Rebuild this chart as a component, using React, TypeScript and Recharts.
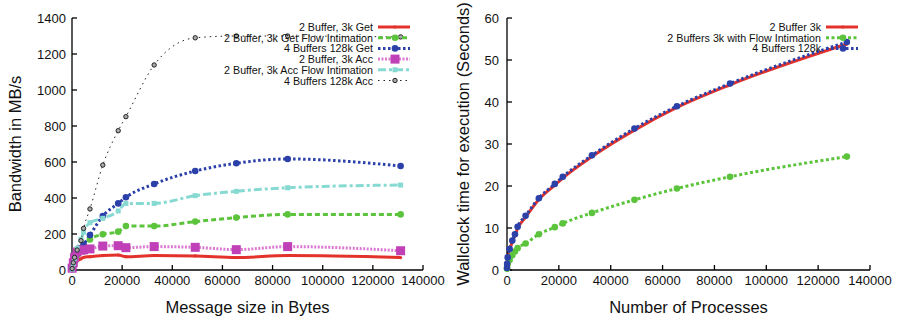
import React from "react";
import { LineChart, Line, XAxis, YAxis } from "recharts";

// left chart: bandwidth vs message size
const msgSizes = [64, 512, 1024, 2048, 3584, 4608, 7168, 12288, 18432, 21504, 32768, 49152, 65536, 86016, 131072];
const getBw = [5, 20, 35, 50, 62, 70, 74, 80, 83, 74, 80, 78, 69, 80, 69];
const getFlowBw = [5, 25, 45, 80, 110, 135, 170, 198, 213, 244, 244, 269, 291, 309, 309];
const get128Bw = [5, 30, 55, 95, 120, 140, 194, 300, 370, 404, 478, 550, 593, 617, 578];
const accBw = [10, 40, 70, 100, 110, 112, 117, 133, 135, 124, 130, 126, 113, 130, 107];
const accFlowBw = [5, 35, 65, 120, 170, 210, 263, 287, 328, 370, 370, 413, 437, 457, 472];
const acc128Bw = [8, 40, 70, 111, 163, 231, 339, 583, 774, 852, 1139, 1290, 1300, 1300, 1295];
const bwTicks = [0, 200, 400, 600, 800, 1000, 1200, 1400];

// right chart: wallclock time vs processes
const procCounts = [16, 64, 256, 1024, 2048, 3072, 4096, 7168, 12288, 18432, 21504, 32768, 49152, 65536, 86016, 131072];
const time2Buf = [0.5, 1.4, 2.8, 4.7, 6.7, 8.2, 9.9, 12.6, 16.8, 20.2, 21.9, 27.0, 33.3, 38.7, 44.1, 53.8];
const time2BufFlow = [0.3, 0.8, 1.5, 2.4, 3.5, 4.4, 5.2, 6.3, 8.5, 10.2, 11.1, 13.6, 16.7, 19.4, 22.2, 27.0];
const time4Buf = [0.5, 1.5, 3, 5, 7, 8.5, 10.3, 12.9, 17.1, 20.5, 22.2, 27.3, 33.7, 39.0, 44.4, 54.3];
const timeTicks = [0, 10, 20, 30, 40, 50, 60];

const xTicks = [0, 20000, 40000, 60000, 80000, 100000, 120000, 140000];

const leftData = msgSizes.map((x, i) => ({
  x,
  get: getBw[i],
  getFlow: getFlowBw[i],
  get128: get128Bw[i],
  acc: accBw[i],
  accFlow: accFlowBw[i],
  acc128: acc128Bw[i],
}));

const rightData = procCounts.map((x, i) => ({
  x,
  buf2: time2Buf[i],
  buf2flow: time2BufFlow[i],
  buf4: time4Buf[i],
}));

type Marker = "dot" | "circle" | "square" | "smallsquare" | "ring";
type Series = { key: string; name: string; color: string; width: number; dash?: string; marker: Marker; mcolor?: string };

const leftSeries: Series[] = [
  { key: "get", name: "2 Buffer, 3k Get", color: "#e3322b", width: 3, marker: "dot" },
  { key: "getFlow", name: "2 Buffer, 3k Get Flow Intimation", color: "#5cc43c", width: 3, dash: "5 3", marker: "circle" },
  { key: "get128", name: "4 Buffers 128k Get", color: "#2b40a8", width: 3, dash: "2.5 2.5", marker: "circle" },
  { key: "acc", name: "2 Buffer, 3k Acc", color: "#dc78d2", width: 3, dash: "2 1.5", marker: "square", mcolor: "#c040b8" },
  { key: "accFlow", name: "2 Buffer, 3k Acc Flow Intimation", color: "#86dad2", width: 3, dash: "8 3 3 3", marker: "smallsquare" },
  { key: "acc128", name: "4 Buffers 128k Acc", color: "#222222", width: 1, dash: "1.5 4", marker: "ring" },
];

const rightSeries: Series[] = [
  { key: "buf2", name: "2 Buffer 3k", color: "#e3322b", width: 3, marker: "dot" },
  { key: "buf2flow", name: "2 Buffers 3k with Flow Intimation", color: "#5cc43c", width: 3, dash: "3 2.5", marker: "circle" },
  { key: "buf4", name: "4 Buffers 128k", color: "#2b40a8", width: 3, dash: "2.5 2.5", marker: "circle" },
];

const FONT = '"Liberation Sans", Arial, sans-serif';

function renderMarker(s: Series, cx: number, cy: number, key: string) {
  const c = s.mcolor || s.color;
  if (cx == null || cy == null) return <g key={key} />;
  switch (s.marker) {
    case "dot":
      return <circle key={key} cx={cx} cy={cy} r={1.6} fill={c} />;
    case "circle":
      return <circle key={key} cx={cx} cy={cy} r={3.3} fill={c} />;
    case "square":
      return <rect key={key} x={cx - 4.5} y={cy - 4.5} width={9} height={9} fill={c} />;
    case "smallsquare":
      return <rect key={key} x={cx - 2.5} y={cy - 2.5} width={5} height={5} fill={c} />;
    case "ring":
      return <circle key={key} cx={cx} cy={cy} r={2.2} fill="#aaa" stroke="#222" strokeWidth={1} />;
  }
}

const tickStyle = { fontSize: 13, fill: "#111", fontFamily: FONT };

function Legend({ series, right, top }: { series: Series[]; right: number; top: number }) {
  return (
    <g>
      {series.map((s, i) => {
        const y = top + i * 10.7;
        return (
          <g key={s.key}>
            <text x={right} y={y} textAnchor="end" dominantBaseline="central" fontSize={10.7} fontFamily={FONT} fill="#111">
              {s.name}
            </text>
            <line x1={right + 5} x2={right + 37} y1={y} y2={y} stroke={s.color} strokeWidth={s.width} strokeDasharray={s.dash} />
            {renderMarker(s, right + 22, y, s.key + "-lg")}
          </g>
        );
      })}
    </g>
  );
}

function Chart({
  data, series, yDomain, yTicks, yMargin, xTitle, yTitle, yTitleX, left, width, margin,
}: {
  data: any[]; series: Series[]; yDomain: [number, number]; yTicks: number[]; yMargin: number;
  xTitle: string; yTitle: string; yTitleX: number; left: number; width: number;
  margin: { left: number; right: number };
}) {
  const plotCx = margin.left + (width - margin.left - margin.right) / 2;
  return (
    <div style={{ position: "absolute", left, top: 0 }}>
      <LineChart width={width} height={320} data={data} margin={{ top: 18, right: margin.right, bottom: 20, left: 0 }}>
        <XAxis
          dataKey="x"
          type="number"
          domain={[0, 140000]}
          ticks={xTicks}
          height={30}
          tickSize={-5}
          tickMargin={11}
          stroke="#000"
          strokeWidth={1.3}
          tick={tickStyle}
          label={{
            content: () => (
              <text x={plotCx} y={313} textAnchor="middle" fontSize={16.5} fontFamily={FONT} fill="#111">{xTitle}</text>
            ),
          }}
        />
        <XAxis xAxisId="top" dataKey="x" type="number" orientation="top" domain={[0, 140000]} ticks={xTicks} height={0} tickSize={-5} tick={false} stroke="#000" strokeWidth={1.3} />
        <YAxis
          type="number"
          domain={yDomain}
          ticks={yTicks}
          width={margin.left}
          tickSize={-5}
          tickMargin={yMargin}
          stroke="#000"
          strokeWidth={1.3}
          tick={tickStyle}
          label={{
            content: () => (
              <text
                x={yTitleX}
                y={144}
                transform={`rotate(-90 ${yTitleX} 144)`}
                textAnchor="middle"
                dominantBaseline="central"
                fontSize={16.5}
                fontFamily={FONT}
                fill="#111"
              >
                {yTitle}
              </text>
            ),
          }}
        />
        <YAxis yAxisId="right" type="number" orientation="right" domain={yDomain} ticks={yTicks} width={0} tickSize={-5} tick={false} stroke="#000" strokeWidth={1.3} />
        {series.map((s) => (
          <Line
            key={s.key}
            type="monotone"
            dataKey={s.key}
            stroke={s.color}
            strokeWidth={s.width}
            strokeDasharray={s.dash}
            dot={(p: any) => renderMarker(s, p.cx, p.cy, `${s.key}-${p.index}`)}
            activeDot={false}
            isAnimationActive={false}
          />
        ))}
      </LineChart>
    </div>
  );
}

export default function App() {
  return (
    <div style={{ position: "absolute", left: 0, top: 0, width: 899, height: 320, background: "#fff", fontFamily: FONT }}>
      <Chart
        data={leftData}
        series={leftSeries}
        yDomain={[0, 1400]}
        yTicks={bwTicks}
        yMargin={11}
        xTitle="Message size in Bytes"
        yTitle="Bandwidth in MB/s"
        yTitleX={15}
        left={0}
        width={449}
        margin={{ left: 72, right: 26 }}
      />
      <Chart
        data={rightData}
        series={rightSeries}
        yDomain={[0, 60]}
        yTicks={timeTicks}
        yMargin={13}
        xTitle="Number of Processes"
        yTitle="Wallclock time for execution (Seconds)"
        yTitleX={14}
        left={449}
        width={450}
        margin={{ left: 58, right: 29 }}
      />
      <svg width={899} height={320} style={{ position: "absolute", left: 0, top: 0, pointerEvents: "none" }}>
        <Legend series={leftSeries} right={373} top={27} />
        <Legend series={rightSeries} right={821} top={27} />
      </svg>
    </div>
  );
}
